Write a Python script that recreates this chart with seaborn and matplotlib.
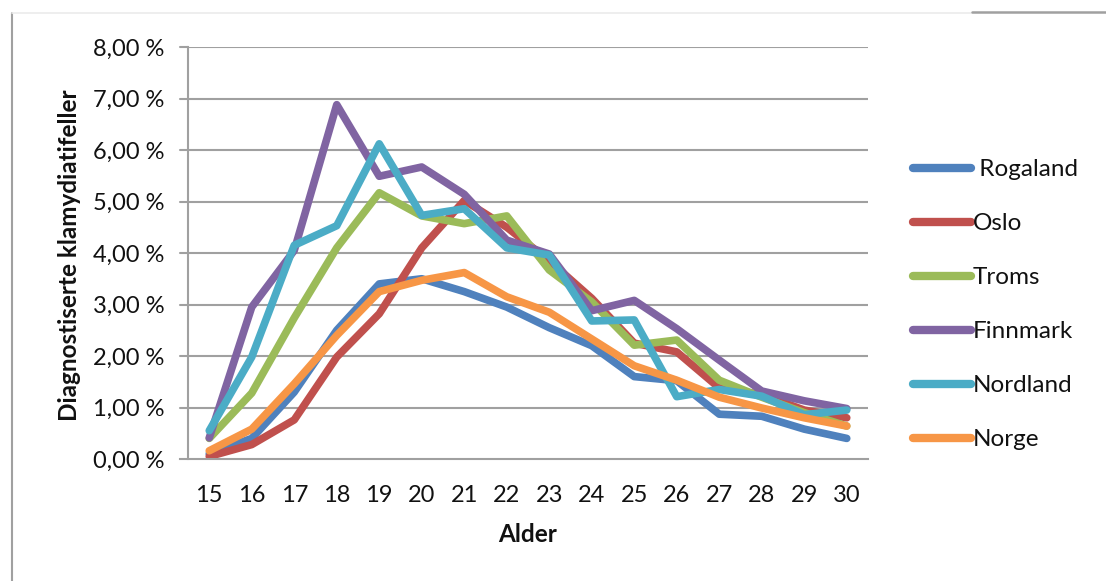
import numpy as np
import pandas as pd
import matplotlib
matplotlib.use("Agg")
import matplotlib.pyplot as plt
from matplotlib.lines import Line2D
from matplotlib.ticker import FuncFormatter
import seaborn as sns

# Age groups on the x axis
ages = list(range(15, 31))

# Diagnosed chlamydia cases, percent per age
rogaland = [0.10, 0.40, 1.30, 2.50, 3.40, 3.50, 3.25, 2.95, 2.55, 2.20, 1.60, 1.52, 0.87, 0.83, 0.58, 0.40]
oslo = [0.05, 0.28, 0.76, 1.98, 2.82, 4.10, 5.02, 4.50, 3.85, 3.12, 2.25, 2.08, 1.38, 1.25, 0.95, 0.80]
troms = [0.40, 1.28, 2.74, 4.10, 5.17, 4.72, 4.57, 4.72, 3.67, 3.05, 2.21, 2.31, 1.53, 1.20, 0.90, 0.64]
finnmark = [0.41, 2.95, 4.05, 6.88, 5.49, 5.67, 5.14, 4.25, 3.98, 2.88, 3.08, 2.53, 1.92, 1.32, 1.13, 0.98]
nordland = [0.55, 1.98, 4.15, 4.53, 6.12, 4.73, 4.86, 4.10, 3.96, 2.68, 2.70, 1.21, 1.35, 1.22, 0.86, 0.95]
norge = [0.16, 0.58, 1.46, 2.40, 3.25, 3.47, 3.62, 3.15, 2.85, 2.33, 1.81, 1.53, 1.20, 0.99, 0.80, 0.64]

regions = ["Rogaland", "Oslo", "Troms", "Finnmark", "Nordland", "Norge"]
series = [rogaland, oslo, troms, finnmark, nordland, norge]
colors = ["#4F81BD", "#C0504D", "#9BBB59", "#8064A2", "#4BACC6", "#F79646"]

df = pd.DataFrame({
    "Alder": ages * len(regions),
    "Andel": [v for s in series for v in s],
    "Fylke": [r for r in regions for _ in ages],
})

sns.set_theme(style="white")
plt.rcParams["font.family"] = ["Lato", "DejaVu Sans"]

W, H = 1106, 581
fig = plt.figure(figsize=(W / 100, H / 100), dpi=100)
ax = fig.add_axes([188 / W, 1 - 459 / H, 680 / W, 412 / H])

grid_col = "#A0A0A0"
txt_col = "#111111"
fs_tick = 17
fs_label = 17.5

sns.lineplot(data=df, x="Alder", y="Andel", hue="Fylke", hue_order=regions,
             palette=colors, linewidth=5.5, sort=False, ax=ax, legend=False,
             solid_joinstyle="round", solid_capstyle="round")

ax.set_xlim(14.5, 30.5)
ax.set_ylim(0, 8)
ax.set_xticks(ages)
ax.set_yticks(range(0, 9))
ax.yaxis.set_major_formatter(FuncFormatter(lambda v, p: f"{v:.2f} %".replace(".", ",")))

for v in range(1, 9):
    ax.axhline(v, color=grid_col, lw=1.5, zorder=0)
    ax.plot([14.5 - 8 / 42.5, 14.5], [v, v], color=grid_col, lw=1.5, clip_on=False, zorder=0)

for side in ["top", "right"]:
    ax.spines[side].set_visible(False)
ax.spines["left"].set_color(grid_col)
ax.spines["left"].set_linewidth(1.5)
ax.spines["bottom"].set_color(grid_col)
ax.spines["bottom"].set_linewidth(1.5)
ax.spines["bottom"].set_bounds(14.5 - 8 / 42.5, 30.5)

ax.tick_params(axis="y", length=5.8, width=1.1, color=grid_col, pad=11, labelsize=fs_tick, labelcolor=txt_col)
ax.tick_params(axis="x", length=0, pad=19, labelsize=fs_tick, labelcolor=txt_col)

ax.set_xlabel("Alder", fontsize=fs_label, fontweight="bold", color=txt_col)
ax.set_ylabel("Diagnostiserte klamydiatifeller", fontsize=fs_label, fontweight="bold", color=txt_col)
ax.xaxis.set_label_coords(0.5, (459 - 535) / 412)
ax.xaxis.label.set_va("center")
ax.yaxis.set_label_coords((70 - 188) / 680, 0.495)
ax.yaxis.label.set_va("center")

handles = [Line2D([0], [0], color=c, lw=6, solid_capstyle="round") for c in colors]
labels = [" Rogaland"] + regions[1:]
fig.legend(handles, labels, loc="upper left", bbox_to_anchor=(913 / W, 1 - 159 / H),
           frameon=False, fontsize=fs_label, labelcolor=txt_col, handlelength=2.4,
           handletextpad=0.05, labelspacing=1.36, borderpad=0, borderaxespad=0)

# Outer chart frame
fig.add_artist(Line2D([11.5 / W, 11.5 / W], [0, 1 - 13 / H], color=grid_col, lw=1.5))
fig.add_artist(Line2D([11.5 / W, 972 / W], [1 - 13 / H, 1 - 13 / H], color="#EBEBEB", lw=1.2))
fig.add_artist(Line2D([972 / W, 1], [1 - 12 / H, 1 - 12 / H], color=grid_col, lw=1.8))

fig.savefig("out.png", dpi=100)
